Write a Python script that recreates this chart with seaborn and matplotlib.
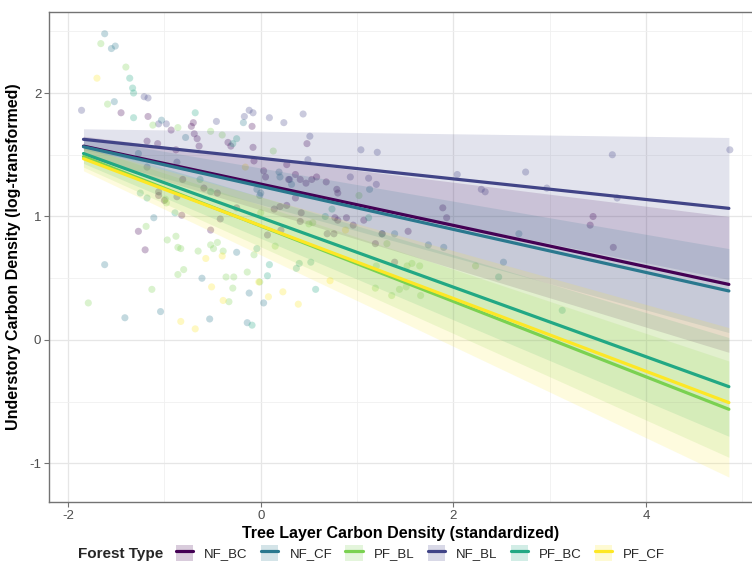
import seaborn as sns
import matplotlib.pyplot as plt
from matplotlib.patches import Patch
from matplotlib.lines import Line2D
import pandas as pd

sns.set_theme(style="white")
plt.rcParams["font.family"] = ["Liberation Sans", "DejaVu Sans"]
plt.rcParams["axes.unicode_minus"] = False

# Forest types (alphabetical, viridis colours as in ggplot)
forest_types = ["NF_BC", "NF_BL", "NF_CF", "PF_BC", "PF_BL", "PF_CF"]
colors = ["#440154", "#414487", "#2A788E", "#22A884", "#7AD151", "#FDE725"]
legend_order = ["NF_BC", "NF_CF", "PF_BL", "NF_BL", "PF_BC", "PF_CF"]

nf_bc_x = [1.89, 1.93, 3.45, 3.42, 3.66, -1.45, -1.17, -0.93, -0.72, -0.70, -0.69, -0.66, -0.64,
           -0.34, -0.31, -0.09, -0.08, -0.88, 0.48, -0.07, 0.03, 0.05, 0.27, 0.36, 0.29, 0.41,
           0.47, 0.53, 0.58, 0.68, 0.79, 0.80, 0.14, 0.20, 0.27, 0.36, 0.42, 0.41, 0.80, 0.89,
           0.96, 1.07, 0.69, 0.76, 1.26, 1.53, 1.19, 1.39, 0.07, 0.21, -1.27, -1.20, -1.06,
           -1.06, -0.87, -0.82, -0.52, -0.42, -0.81, -0.59, -0.45, -1.00, -0.25, 0.77, -1.18, -1.07]
nf_bc_y = [1.07, 0.99, 1.00, 0.93, 0.75, 1.84, 1.81, 1.70, 1.73, 1.76, 1.67, 1.63, 1.57,
           1.60, 1.57, 1.73, 1.56, 1.54, 1.59, 1.45, 1.37, 1.32, 1.42, 1.34, 1.30, 1.30,
           1.27, 1.30, 1.32, 1.28, 1.22, 1.19, 1.06, 1.08, 1.09, 1.15, 1.03, 0.96, 0.97, 0.99,
           0.93, 0.97, 0.86, 0.86, 0.86, 0.88, 0.78, 0.63, 0.85, 0.89, 0.88, 0.73, 1.20,
           1.17, 1.16, 1.01, 0.89, 0.98, 1.30, 1.23, 1.19, 1.13, 1.07, 0.99, 1.61, 1.59]

nf_bl_x = [4.87, 3.65, 2.75, 2.04, 2.29, 2.33, 2.97, 3.70, 1.21, 1.04, 1.20, -1.86, -1.21, -1.17,
           -1.06, -0.98, -0.46, -0.17, -0.12, -0.08, 0.09, 0.24, 0.44, 0.51, 0.49, 0.93, 1.12,
           -0.87, -1.18, 0.30]
nf_bl_y = [1.54, 1.50, 1.36, 1.34, 1.22, 1.20, 1.23, 1.15, 1.52, 1.54, 1.26, 1.86, 1.97, 1.96,
           1.75, 1.75, 1.77, 1.81, 1.86, 1.84, 1.80, 1.76, 1.83, 1.65, 1.46, 1.32, 1.31,
           1.44, 1.40, 1.30]

nf_cf_x = [-1.62, -1.55, -1.51, -1.52, -0.78, -1.03, -0.18, 0.19, 0.20, 0.32, 1.13, 2.68, 1.90,
           2.52, 1.74, 1.39, 1.26, -1.11, -1.62, -1.41, -1.04, -0.53, -0.61, -0.12, 0.03, -0.14,
           -0.25, -1.27, 0.00, -0.04, -0.01]
nf_cf_y = [2.48, 2.36, 2.38, 1.93, 1.64, 1.78, 1.76, 1.36, 1.32, 1.26, 1.22, 0.86, 0.75,
           0.63, 0.77, 0.86, 0.86, 0.99, 0.61, 0.18, 0.23, 0.17, 0.50, 0.38, 0.30, 0.14,
           0.71, 1.51, 1.19, 1.22, 1.17]

pf_bc_x = [-1.32, -1.36, -1.33, -1.32, -0.68, -0.25, -0.89, -1.25, -1.18, 0.40, 0.37, 0.52, 0.09,
           0.07, 0.57, 0.74, 0.67, 1.12, -0.63, -0.52, -0.29, -0.09, -0.04, 3.13, 2.47]
pf_bc_y = [1.80, 2.12, 2.04, 2.00, 1.84, 1.63, 1.03, 1.19, 1.15, 0.62, 0.58, 0.63, 0.61,
           0.52, 0.41, 1.06, 1.00, 0.99, 1.30, 1.20, 1.59, 0.12, 0.74, 0.24, 0.51]

pf_bl_x = [-1.66, -1.40, -1.59, -1.12, -0.86, -0.52, -0.40, -0.99, -0.98, -1.19, -0.97, -0.88,
           -0.86, -0.83, -0.65, -0.52, -0.49, -0.45, -0.39, -0.80, -0.86, -0.36, -0.28, -0.14,
           -1.13, -0.29, -1.79, -0.33, -0.01, 1.19, -0.07, 0.15, 1.31, 1.52, 1.57, 1.65, 2.23,
           1.36, 1.44, 1.51, 1.66, 1.20, 1.02, 0.50, 0.54, 0.00, 0.13]
pf_bl_y = [2.40, 2.21, 1.91, 1.74, 1.72, 1.69, 1.66, 1.14, 1.11, 0.92, 0.81, 0.84,
           0.75, 0.74, 0.72, 0.77, 0.74, 0.79, 0.72, 0.57, 0.53, 0.51, 0.51, 0.55,
           0.41, 0.42, 0.30, 0.31, 0.47, 0.42, 0.69, 0.76, 0.78, 0.60, 0.62, 0.60, 0.60,
           0.36, 0.41, 0.43, 0.36, 0.60, 1.17, 0.94, 0.95, 1.03, 1.53]

pf_cf_x = [-1.70, -0.57, -0.51, -0.83, -0.68, -0.39, 0.08, 0.23, 0.39, -0.40, 0.88, 0.72, -0.02,
           -0.16]
pf_cf_y = [2.12, 0.66, 0.43, 0.15, 0.09, 0.32, 0.35, 0.39, 0.29, 0.68, 0.89, 0.48, 0.47,
           1.40]

# Fitted lines and confidence bands at the ends of the prediction range
x_range = [-1.84, 4.86]
fit_start = [1.570, 1.625, 1.565, 1.510, 1.485, 1.468]
fit_end = [0.450, 1.066, 0.397, -0.378, -0.561, -0.507]
ci_start_lo = [1.49, 1.54, 1.49, 1.43, 1.40, 1.37]
ci_start_hi = [1.65, 1.71, 1.64, 1.59, 1.57, 1.56]
ci_end_lo = [-0.10, 0.49, 0.06, -0.78, -0.95, -1.11]
ci_end_hi = [1.00, 1.64, 0.74, 0.02, -0.17, 0.10]

points = pd.concat([
    pd.DataFrame({"x": nf_bc_x, "y": nf_bc_y, "type": "NF_BC"}),
    pd.DataFrame({"x": nf_bl_x, "y": nf_bl_y, "type": "NF_BL"}),
    pd.DataFrame({"x": nf_cf_x, "y": nf_cf_y, "type": "NF_CF"}),
    pd.DataFrame({"x": pf_bc_x, "y": pf_bc_y, "type": "PF_BC"}),
    pd.DataFrame({"x": pf_bl_x, "y": pf_bl_y, "type": "PF_BL"}),
    pd.DataFrame({"x": pf_cf_x, "y": pf_cf_y, "type": "PF_CF"}),
])

fits = []
for i, t in enumerate(forest_types):
    fits.append(pd.DataFrame({"x": x_range, "fit": [fit_start[i], fit_end[i]],
                              "lo": [ci_start_lo[i], ci_end_lo[i]],
                              "hi": [ci_start_hi[i], ci_end_hi[i]], "type": t}))
fits = pd.concat(fits)

palette = dict(zip(forest_types, colors))

fig = plt.figure(figsize=(7.52, 5.63), dpi=100)
ax = fig.add_axes([49 / 752, 1 - 502 / 563, 703 / 752, 490 / 563])

sns.scatterplot(data=points, x="x", y="y", hue="type", palette=palette, s=26,
                alpha=0.28, linewidth=0, legend=False, ax=ax, zorder=2)

for t in forest_types:
    d = fits[fits["type"] == t]
    ax.fill_between(d["x"], d["lo"], d["hi"], color=palette[t], alpha=0.15,
                    linewidth=0, zorder=3)

sns.lineplot(data=fits, x="x", y="fit", hue="type", palette=palette, linewidth=2.3,
             legend=False, ax=ax, zorder=4)

ax.set_xlim(-2.198, 5.10)
ax.set_ylim(-1.312, 2.656)
ax.set_xticks([-2, 0, 2, 4])
ax.set_yticks([-1, 0, 1, 2])
ax.set_xticks([-1, 1, 3, 5], minor=True)
ax.set_yticks([-0.5, 0.5, 1.5, 2.5], minor=True)
ax.grid(True, which="major", color="#e6e6e6", linewidth=0.9, zorder=0)
ax.grid(True, which="minor", color="#f0f0f0", linewidth=0.6, zorder=0)
ax.set_axisbelow(True)

for side in ["left", "top", "bottom"]:
    ax.spines[side].set_color("#737373")
    ax.spines[side].set_linewidth(1.0)
ax.spines["right"].set_visible(False)
ax.tick_params(axis="both", which="major", length=3.5, width=0.8, color="#737373",
               labelsize=9.5, labelcolor="#4d4d4d", pad=2, bottom=True, left=True)
ax.tick_params(axis="both", which="minor", length=0)

ax.set_xlabel("Tree Layer Carbon Density (standardized)", fontsize=11.5,
              fontweight="bold", color="black", labelpad=3)
ax.set_ylabel("Understory Carbon Density (log-transformed)", fontsize=11.5,
              fontweight="bold", color="black", labelpad=6)

handles = []
for t in legend_order:
    handles.append((Patch(facecolor=palette[t], alpha=0.2, edgecolor="none"),
                    Line2D([], [], color=palette[t], linewidth=2.3)))
fig.text(78 / 752, 1 - 554 / 563, "Forest Type", fontsize=11, fontweight="bold",
         va="center", ha="left")
fig.legend(handles, legend_order, loc="center left", bbox_to_anchor=(176 / 752, 1 - 553 / 563),
           ncol=6, frameon=False, fontsize=9.5, handlelength=1.3, handleheight=1.4,
           handletextpad=0.85, columnspacing=1.0, borderaxespad=0, borderpad=0)

fig.savefig("out.png", dpi=100)
